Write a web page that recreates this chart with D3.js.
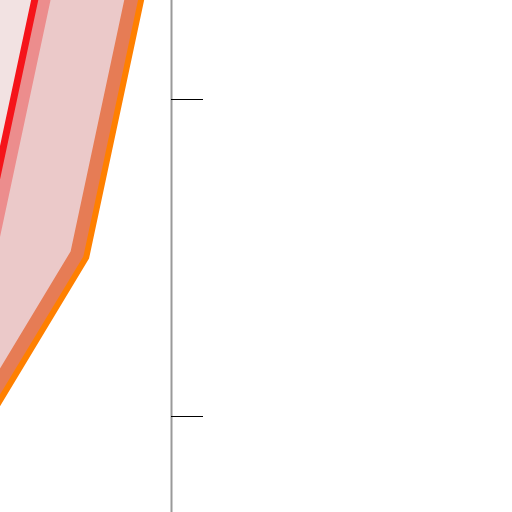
<!DOCTYPE html>
<html>
<head>
<meta charset="utf-8">
<script src="https://cdn.jsdelivr.net/npm/d3@7"></script>
<style>
  html, body { margin: 0; padding: 0; background: #fff; }
  svg { display: block; }
</style>
</head>
<body>
<svg id="chart" width="512" height="512"></svg>
<script>
// ---- data ----
const levels = [0.5, 1.5, 2.5];          // positions along the vertical axis
const outerSeries = [3.1, 7.88, 9.57];   // orange boundary
const innerSeries = [0.45, 5.22, 6.91];  // red boundary
const tickValues = [1, 2];
const tickLabels = ["", ""];

const W = 512, H = 512;
const svg = d3.select("#chart");

const y = d3.scaleLinear().domain([0.5, 2.5]).range([574.5, -59.5]);
const x = d3.scaleLinear().domain([0, 10]).range([-229, 171]);

const outerPts = levels.map((l, i) => ({ l, v: outerSeries[i], inner: innerSeries[i] }));

const leftArea = d3.area()
  .y(d => y(d.l))
  .x0(() => x(-20))
  .x1(d => x(d.v));
const midArea = d3.area()
  .y(d => y(d.l))
  .x0(d => x(d.inner))
  .x1(d => x(d.v));
const outerLine = d3.line().x(d => x(d.v)).y(d => y(d.l));
const innerLine = d3.line().x(d => x(d.inner)).y(d => y(d.l));

const defs = svg.append("defs");
defs.append("clipPath").attr("id", "clipOuter")
  .append("path").attr("d", leftArea(outerPts));
defs.append("clipPath").attr("id", "clipMid")
  .append("path").attr("d", midArea(outerPts));

// fills
svg.append("path").attr("d", leftArea(outerPts)).attr("fill", "#f2e2e2");
svg.append("path").attr("d", midArea(outerPts)).attr("fill", "#ebc9c9");

// inner bands
svg.append("g").attr("clip-path", "url(#clipMid)")
  .append("path").attr("d", innerLine(outerPts))
  .attr("fill", "none").attr("stroke", "#ec8d8d").attr("stroke-width", 31);
svg.append("g").attr("clip-path", "url(#clipOuter)")
  .append("path").attr("d", outerLine(outerPts))
  .attr("fill", "none").attr("stroke", "#e67c55").attr("stroke-width", 33);

// boundary lines
svg.append("path").attr("d", outerLine(outerPts))
  .attr("fill", "none").attr("stroke", "#ff8000").attr("stroke-width", 6);
svg.append("path").attr("d", innerLine(outerPts))
  .attr("fill", "none").attr("stroke", "#f5141a").attr("stroke-width", 7);

// axis
const axis = d3.axisRight(y)
  .tickValues(tickValues)
  .tickSize(32)
  .tickSizeOuter(0)
  .tickFormat((d, i) => tickLabels[i]);
const g = svg.append("g").attr("transform", "translate(171,0)").call(axis);
g.select(".domain").attr("stroke", "#999").attr("stroke-width", 2);
g.selectAll(".tick line").attr("stroke", "#000").attr("stroke-width", 1);
</script>
</body>
</html>
